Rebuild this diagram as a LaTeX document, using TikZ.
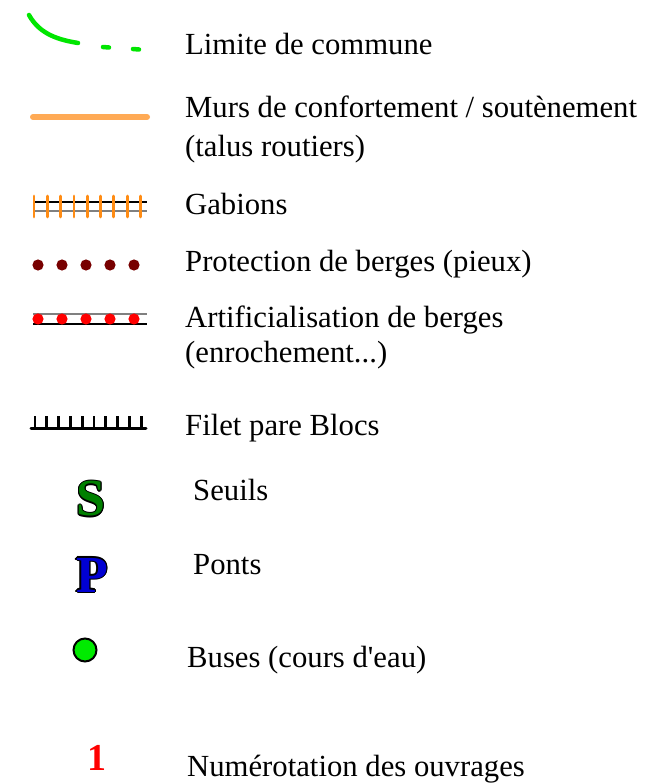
\documentclass[tikz,border=0pt]{standalone}
\usepackage{fontspec}
\setmainfont{Liberation Serif}
\definecolor{limgreen}{RGB}{0,230,0}
\definecolor{murorange}{RGB}{255,170,85}
\definecolor{gaborange}{RGB}{255,140,20}
\definecolor{darkred}{RGB}{120,0,0}
\definecolor{sgreen}{RGB}{0,128,0}
\definecolor{pblue}{RGB}{0,0,210}
\definecolor{busgreen}{RGB}{0,235,0}
\tikzset{
  lbl/.style={anchor=base west, inner sep=0pt, font=\fontsize{30.7}{37}\selectfont},
  sym/.style={inner sep=0pt, font=\fontsize{52}{56}\selectfont\bfseries},
}
\newcommand{\outl}[5]{% name, x, y, color, text
  \foreach \dx/\dy in {-1.3/0,1.3/0,0/-1.3,0/1.3,-0.9/-0.9,0.9/0.9,-0.9/0.9,0.9/-0.9}
    {\node[sym, text=black] at (#2+\dx,#3+\dy) {#5};}
  \node[sym, text=#4] (#1) at (#2,#3) {#5};
}
\begin{document}
\begin{tikzpicture}[x=1pt,y=-1pt]
\useasboundingbox (0,0) rectangle (668,783);
\fill[white] (0,0) rectangle (668,783);
% Limite de commune
\draw[limgreen, line width=4.5pt, line cap=round] (29,15) .. controls (40,35) and (60,40) .. (78,43);
\draw[limgreen, line width=4.5pt, line cap=round] (103,47) -- (109,47.5);
\draw[limgreen, line width=4.5pt, line cap=round] (133,49) -- (139,49.5);
\node[lbl] (t1) at (185,55) {Limite de commune};
% Murs
\draw[murorange, line width=6pt, line cap=round] (33,117) -- (147,117);
\node[lbl] (t2) at (185,118) {Murs de confortement / soutènement};
\node[lbl] (t2b) at (185,157) {(talus routiers)};
% Gabions
\draw[black, line width=1.2pt] (33,202) -- (147,202);
\draw[gray, line width=1.2pt] (33,211) -- (147,211);
\foreach \i in {0,...,8} \draw[gaborange, line width=2.8pt, line cap=round] (34+\i*13.3,196) -- (34+\i*13.3,217);
\node[lbl] (t3) at (185,215) {Gabions};
% Pieux
\foreach \i in {0,...,4} \fill[darkred] (38+\i*24,265) circle (5.6);
\node[lbl] (t4) at (185,272) {Protection de berges (pieux)};
% Artificialisation
\draw[gray, line width=1.2pt] (33,314) -- (147,314);
\draw[black, line width=1.2pt] (33,324) -- (147,324);
\foreach \i in {0,...,4} \fill[red] (38+\i*24,319) circle (5.6);
\node[lbl] (t5) at (185,327) {Artificialisation de berges};
\node[lbl] (t5b) at (185,362) {(enrochement...)};
% Filet
\draw[black, line width=3pt, line cap=round] (31,428) -- (146,428);
\foreach \i in {0,...,9} \draw[black, line width=2.8pt] (35+\i*11.8,416) -- (35+\i*11.8,428);
\node[lbl] (t6) at (185,435) {Filet pare Blocs};
% Seuils
\outl{s}{91}{499}{sgreen}{S}
\node[lbl] (t7) at (193,500) {Seuils};
% Ponts
\outl{p}{92}{575}{pblue}{P}
\node[lbl] (t8) at (193,574) {Ponts};
% Buses
\draw[black, line width=2pt, fill=busgreen] (85,650) circle (11.5);
\node[lbl] (t9) at (187,667) {Buses (cours d\textquotesingle eau)};
% Numerotation
\node[inner sep=0pt, text=red, font=\fontsize{38}{40}\selectfont\bfseries] (n1) at (97,758) {1};
\node[lbl] (t10) at (187,776) {Numérotation des ouvrages};
\end{tikzpicture}
\end{document}
